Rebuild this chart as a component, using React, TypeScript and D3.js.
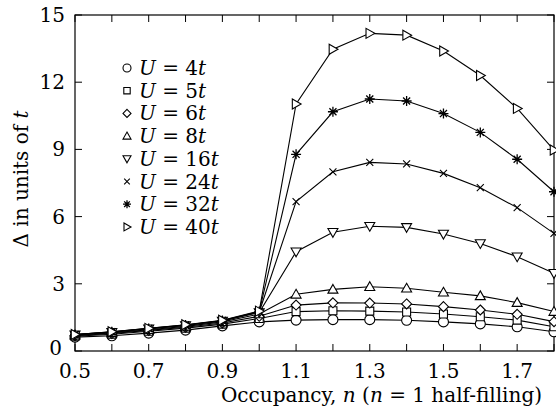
import { useEffect, useRef } from "react";
import * as d3 from "d3";

// occupancy values (x)
const occupancy = [0.5, 0.6, 0.7, 0.8, 0.9, 1.0, 1.1, 1.2, 1.3, 1.4, 1.5, 1.6, 1.7, 1.8];

// gap values per U
const u4 = [0.62, 0.68, 0.80, 0.93, 1.12, 1.30, 1.38, 1.40, 1.40, 1.37, 1.30, 1.21, 1.08, 0.86];
const u5 = [0.66, 0.75, 0.88, 1.02, 1.20, 1.45, 1.76, 1.80, 1.78, 1.74, 1.65, 1.53, 1.38, 1.08];
const u6 = [0.68, 0.78, 0.92, 1.06, 1.25, 1.55, 2.05, 2.15, 2.14, 2.10, 1.98, 1.83, 1.64, 1.31];
const u8 = [0.70, 0.81, 0.95, 1.10, 1.30, 1.65, 2.53, 2.75, 2.87, 2.80, 2.62, 2.46, 2.16, 1.76];
const u16 = [0.72, 0.84, 0.99, 1.14, 1.34, 1.72, 4.43, 5.30, 5.57, 5.52, 5.22, 4.80, 4.21, 3.47];
const u24 = [0.73, 0.85, 1.00, 1.15, 1.35, 1.74, 6.67, 8.00, 8.42, 8.35, 7.93, 7.29, 6.40, 5.25];
const u32 = [0.73, 0.86, 1.01, 1.16, 1.36, 1.76, 8.78, 10.68, 11.25, 11.16, 10.60, 9.76, 8.56, 7.11];
const u40 = [0.74, 0.86, 1.01, 1.17, 1.37, 1.78, 11.03, 13.47, 14.18, 14.10, 13.39, 12.30, 10.83, 8.97];

const uLabels = ["4", "5", "6", "8", "16", "24", "32", "40"];
const markers = ["circle", "square", "diamond", "triUp", "triDown", "cross", "star", "triRight"];

const xTicks = [0.5, 0.6, 0.7, 0.8, 0.9, 1.0, 1.1, 1.2, 1.3, 1.4, 1.5, 1.6, 1.7, 1.8];
const xTickLabels = ["0.5", "0.7", "0.9", "1.1", "1.3", "1.5", "1.7"];
const yTicks = [0, 3, 6, 9, 12, 15];

const width = 556;
const height = 412;
const margin = { top: 15, right: 1, bottom: 61, left: 75 };
const font = "'DejaVu Serif', serif";
const fontSize = 20;

// path for a marker of half-size r centred on 0,0
const markerPath = (kind, r) => {
    switch (kind) {
        case "circle":
            return `M${r},0A${r},${r} 0 1,1 ${-r},0A${r},${r} 0 1,1 ${r},0Z`;
        case "square": {
            const s = r * 0.8;
            return `M${-s},${-s}H${s}V${s}H${-s}Z`;
        }
        case "diamond":
            return `M0,${-r}L${r},0L0,${r}L${-r},0Z`;
        case "triUp":
            return `M0,${-r}L${r},${r * 0.75}L${-r},${r * 0.75}Z`;
        case "triDown":
            return `M0,${r}L${r},${-r * 0.75}L${-r},${-r * 0.75}Z`;
        case "triRight":
            return `M${r},0L${-r * 0.75},${r}L${-r * 0.75},${-r}Z`;
        case "cross": {
            const s = r * 0.7;
            return `M${-s},${-s}L${s},${s}M${-s},${s}L${s},${-s}`;
        }
        case "star": {
            const s = r;
            const d = s * 0.707;
            return `M${-s},0L${s},0M0,${-s}L0,${s}M${-d},${-d}L${d},${d}M${-d},${d}L${d},${-d}`;
        }
        default:
            return "";
    }
};

const drawChart = (node) => {
    const series = [u4, u5, u6, u8, u16, u24, u32, u40];

    const svg = d3.select(node);
    svg.selectAll("*").remove();

    const x = d3.scaleLinear()
        .domain([0.5, 1.8])
        .range([margin.left, width - margin.right - 1]);

    const y = d3.scaleLinear()
        .domain([0, 15])
        .range([height - margin.bottom, margin.top]);

    const x0 = x.range()[0];
    const x1 = x.range()[1];
    const y0 = y.range()[0];
    const y1 = y.range()[1];
    const tick = 7;

    // frame
    svg.append("rect")
        .attr("x", x0)
        .attr("y", y1)
        .attr("width", x1 - x0)
        .attr("height", y0 - y1)
        .attr("fill", "none")
        .attr("stroke", "#000")
        .attr("stroke-width", 1.2);

    // inward ticks on all four sides
    const ticks = svg.append("g").attr("stroke", "#000").attr("stroke-width", 1);
    xTicks.forEach(t => {
        ticks.append("line").attr("x1", x(t)).attr("x2", x(t)).attr("y1", y0).attr("y2", y0 - tick);
        ticks.append("line").attr("x1", x(t)).attr("x2", x(t)).attr("y1", y1).attr("y2", y1 + tick);
    });
    yTicks.forEach(t => {
        ticks.append("line").attr("x1", x0).attr("x2", x0 + tick).attr("y1", y(t)).attr("y2", y(t));
        ticks.append("line").attr("x1", x1).attr("x2", x1 - tick).attr("y1", y(t)).attr("y2", y(t));
    });

    // tick labels
    svg.append("g")
        .attr("font-family", font)
        .attr("font-size", fontSize)
        .attr("text-anchor", "middle")
        .selectAll("text")
        .data(xTickLabels)
        .join("text")
        .attr("x", d => x(+d))
        .attr("y", y0 + 27)
        .text(d => d);

    svg.append("g")
        .attr("font-family", font)
        .attr("font-size", fontSize)
        .attr("text-anchor", "end")
        .selectAll("text")
        .data(yTicks)
        .join("text")
        .attr("x", d => (d === 0 ? x0 - 13 : x0 - 10))
        .attr("y", d => y(d) + (d === 0 ? 4 : 7))
        .text(d => d);

    // axis titles
    const xt = svg.append("text")
        .attr("font-family", font)
        .attr("font-size", fontSize)
        .attr("text-anchor", "end")
        .attr("x", 542)
        .attr("y", 402);
    xt.append("tspan").text("Occupancy, ");
    xt.append("tspan").attr("font-style", "italic").text("n");
    xt.append("tspan").text(" (");
    xt.append("tspan").attr("font-style", "italic").text("n");
    xt.append("tspan").text(" = 1 half-filling)");

    const yt = svg.append("text")
        .attr("font-family", font)
        .attr("font-size", fontSize)
        .attr("text-anchor", "middle")
        .attr("transform", `translate(28,179) rotate(-90)`);
    yt.append("tspan").text("Δ in units of ");
    yt.append("tspan").attr("font-style", "italic").text("t");

    // lines
    const line = d3.line()
        .x((d, i) => x(occupancy[i]))
        .y(d => y(d));

    svg.append("g")
        .selectAll("path")
        .data(series)
        .join("path")
        .attr("d", d => line(d))
        .attr("fill", "none")
        .attr("stroke", "#000")
        .attr("stroke-width", 1.1);

    // markers
    series.forEach((s, k) => {
        svg.append("g")
            .selectAll("path")
            .data(s)
            .join("path")
            .attr("transform", (d, i) => `translate(${x(occupancy[i])},${y(d)})`)
            .attr("d", markerPath(markers[k], 5))
            .attr("fill", markers[k] === "cross" || markers[k] === "star" ? "none" : "#fff")
            .attr("stroke", "#000")
            .attr("stroke-width", markers[k] === "star" ? 1.3 : 1.1);
    });

    // legend
    const legend = svg.append("g")
        .attr("font-family", font)
        .attr("font-size", fontSize);
    uLabels.forEach((u, i) => {
        const ly = 68 + i * 22.7;
        legend.append("path")
            .attr("transform", `translate(127,${ly})`)
            .attr("d", markerPath(markers[i], 4))
            .attr("fill", "none")
            .attr("stroke", "#000")
            .attr("stroke-width", markers[i] === "star" ? 1.3 : 1.1);
        const t = legend.append("text").attr("x", 139).attr("y", ly + 7);
        t.append("tspan").attr("font-style", "italic").text("U");
        t.append("tspan").text(` = ${u}`);
        t.append("tspan").attr("font-style", "italic").text("t");
    });
};

export default function App() {
    const ref = useRef(null);

    useEffect(() => {
        drawChart(ref.current);
    }, []);

    return (
        <svg
            ref={ref}
            width={width}
            height={height}
            style={{ position: "absolute", left: 0, top: 0, background: "#fff" }}
        />
    );
}
